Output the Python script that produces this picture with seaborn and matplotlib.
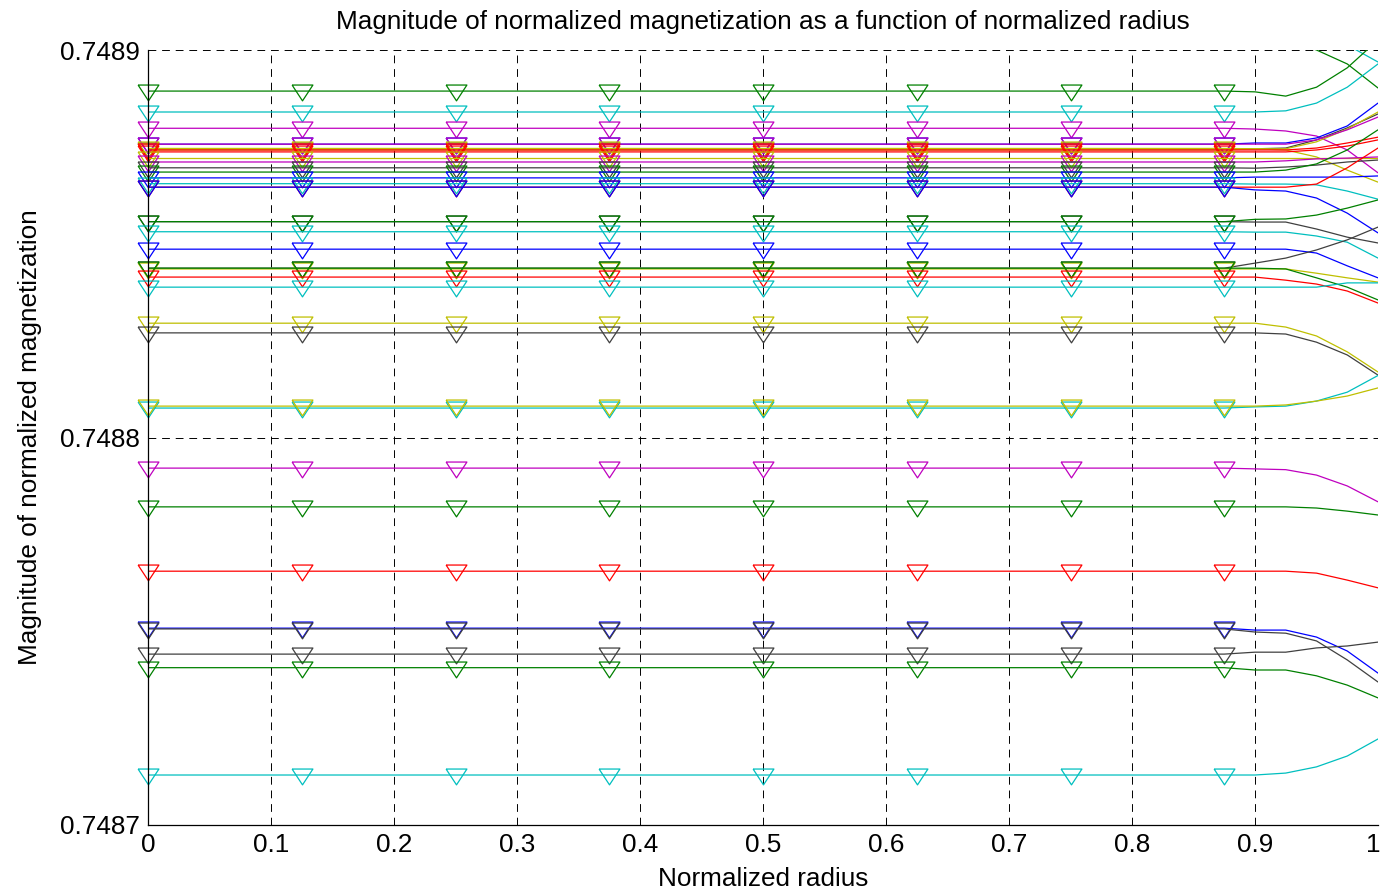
import numpy as np
import pandas as pd
import matplotlib
matplotlib.use("Agg")
import matplotlib.pyplot as plt
from matplotlib.transforms import ScaledTranslation
import seaborn as sns

# ---------------- data ----------------
# radius sample points: flat part (with markers) and edge region
x_flat = [0.0, 0.125, 0.25, 0.375, 0.5, 0.625, 0.75, 0.875]
x_tail = [0.9, 0.925, 0.95, 0.975, 1.0]

# magnetization values are stored as (M - 0.7487) in units of 1e-7
base_value = 0.7487
unit = 1e-7

line_colors = [
    "g", "c", "g", "c", "m", "b", "k", "y", "m", "y", "r", "r", "y", "m", "k", "g", "b",
    "c", "r", "b",
    "k", "g", "c", "b", "k", "y", "g", "r", "c", "y", "k", "c", "y",
    "m", "g", "r", "b", "k", "k", "g", "c",
]

flat_u = [
    2026, 2026, 1894, 1840, 1798, 1757, 1745, 1742, 1757, 1746, 1742, 1737, 1721, 1711, 1696, 1685, 1670,
    1655, 1646, 1646,
    1557, 1557, 1531, 1486, 1437, 1435, 1437, 1414, 1388, 1295, 1270, 1076, 1081,
    921, 821, 655, 508, 506, 441, 406, 129,
]

tail_u = [
    [2026, 2026, 2000, 1964, 1902],
    [2026, 2026, 2026, 2013, 1969],
    [1892, 1881, 1904, 1954, 2026],
    [1840, 1843, 1863, 1904, 1964],
    [1796, 1791, 1778, 1742, 1683],
    [1760, 1760, 1773, 1804, 1863],
    [1745, 1747, 1768, 1799, 1835],
    [1745, 1745, 1763, 1796, 1840],
    [1757, 1757, 1768, 1794, 1827],
    [1745, 1742, 1724, 1690, 1659],
    [1742, 1742, 1747, 1760, 1775],
    [1737, 1737, 1742, 1752, 1768],
    [1721, 1721, 1721, 1721, 1721],
    [1711, 1714, 1719, 1721, 1724],
    [1695, 1698, 1703, 1711, 1716],
    [1685, 1690, 1706, 1742, 1794],
    [1672, 1672, 1672, 1672, 1675],
    [1654, 1654, 1652, 1636, 1615],
    [1646, 1646, 1654, 1696, 1747],
    [1639, 1636, 1618, 1579, 1528],
    [1556, 1556, 1538, 1517, 1502],
    [1563, 1564, 1574, 1592, 1613],
    [1530, 1530, 1520, 1504, 1463],
    [1486, 1486, 1476, 1443, 1412],
    [1450, 1463, 1484, 1510, 1543],
    [1435, 1435, 1424, 1412, 1401],
    [1437, 1435, 1412, 1388, 1355],
    [1414, 1406, 1396, 1378, 1347],
    [1388, 1388, 1388, 1399, 1399],
    [1295, 1285, 1262, 1221, 1169],
    [1270, 1267, 1246, 1213, 1161],
    [1079, 1081, 1094, 1117, 1160],
    [1081, 1084, 1094, 1107, 1128],
    [919, 917, 903, 875, 834],
    [821, 821, 818, 810, 800],
    [655, 655, 650, 632, 612],
    [503, 503, 485, 449, 392],
    [498, 495, 475, 426, 369],
    [446, 446, 457, 462, 472],
    [400, 400, 385, 361, 328],
    [129, 134, 150, 178, 222],
]

x_ticks = [0, 0.1, 0.2, 0.3, 0.4, 0.5, 0.6, 0.7, 0.8, 0.9, 1]
x_tick_labels = ["0", "0.1", "0.2", "0.3", "0.4", "0.5", "0.6", "0.7", "0.8", "0.9", "1"]
y_ticks = [0.7487, 0.7488, 0.7489]
y_tick_labels = ["0.7487", "0.7488", "0.7489"]

title_text = "Magnitude of normalized magnetization as a function of normalized radius"
x_label = "Normalized radius"
y_label = "Magnitude of normalized magnetization"

# ---------------- style ----------------
matlab_colors = {
    "b": "#0000FF", "g": "#008000", "r": "#FF0000", "c": "#00BFBF",
    "m": "#BF00BF", "y": "#BFBF00", "k": "#404040",
}

sns.set_style("white")
plt.rcParams["font.family"] = ["Liberation Sans", "DejaVu Sans"]
plt.rcParams["text.color"] = "black"
plt.rcParams["axes.labelcolor"] = "black"
plt.rcParams["axes.titlecolor"] = "black"

fig = plt.figure(figsize=(13.81, 8.92), dpi=100)
ax = fig.add_axes([148 / 1381, 67 / 892, 1230 / 1381, 775 / 892])

tri_down = [(-1.0, 0.62), (1.0, 0.62), (0.0, -0.9), (-1.0, 0.62)]

ymin, ymax = 0.7487, 0.7489
x_all = x_flat + x_tail
rows = []
for i, (col, fu, tu) in enumerate(zip(line_colors, flat_u, tail_u)):
    vals = [base_value + fu * unit] * len(x_flat) + [base_value + t * unit for t in tu]
    for xx, vv in zip(x_all, vals):
        rows.append({"line": i, "radius": xx, "M": vv})
df = pd.DataFrame(rows)

for i, col in enumerate(line_colors):
    d = df[df["line"] == i]
    c = matlab_colors[col]
    sns.lineplot(data=d, x="radius", y="M", color=c, lw=0.9, ax=ax,
                 estimator=None, sort=False, legend=False)
    dm = d[d["radius"] <= 0.875]
    if dm["M"].iloc[0] <= ymax + 1e-12:
        sns.lineplot(data=dm, x="radius", y="M", color=c, ax=ax,
                     estimator=None, sort=False, legend=False,
                     linestyle="", marker=tri_down, markersize=15,
                     markerfacecolor="none", markeredgecolor=c,
                     markeredgewidth=0.9, clip_on=False)

FS = 18.8
ax.set_xlim(0, 1)
ax.set_ylim(ymin, ymax)
ax.set_xticks(x_ticks)
ax.set_xticklabels(x_tick_labels)
ax.set_yticks(y_ticks)
ax.set_yticklabels(y_tick_labels)
ax.tick_params(axis="both", direction="in", length=5, width=0.8,
               labelsize=FS, colors="black", pad=6)
ax.grid(True, color="black", linestyle=(0, (8, 6)), linewidth=0.7)
for s in ["top", "right"]:
    ax.spines[s].set_visible(False)
for s in ["left", "bottom"]:
    ax.spines[s].set_color("black")
    ax.spines[s].set_linewidth(0.9)

# keep the last x tick label inside the canvas
last_lbl = ax.get_xticklabels()[-1]
last_lbl.set_transform(last_lbl.get_transform() +
                       ScaledTranslation(-5 / 100, 0, fig.dpi_scale_trans))

ax.set_title(title_text, fontsize=FS, pad=15, color="black")
ax.set_xlabel(x_label, fontsize=FS, labelpad=7, color="black")
ax.set_ylabel(y_label, fontsize=FS, labelpad=13, color="black")

fig.savefig("out.png", dpi=100, facecolor="white")
